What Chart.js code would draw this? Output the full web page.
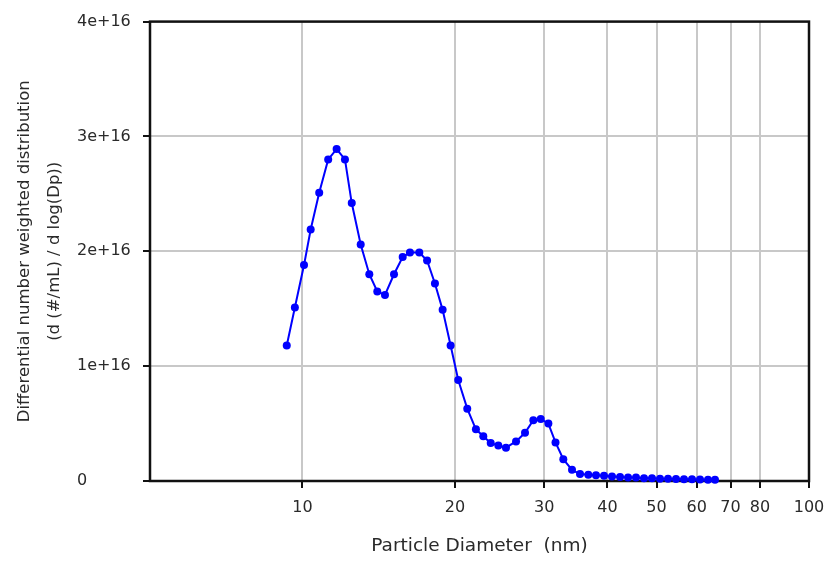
<!DOCTYPE html>
<html>
<head>
<meta charset="utf-8">
<script src="https://cdn.jsdelivr.net/npm/chart.js@4.4.1/dist/chart.umd.min.js"></script>
<style>
  html, body { margin: 0; padding: 0; background: #ffffff; }
  #wrap { width: 826px; height: 561px; position: relative; }
</style>
</head>
<body>
<div id="wrap"><canvas id="c" width="826" height="561"></canvas></div>
<script>
// Particle diameters (nm)
const diameters = [
  9.31, 9.66, 10.07, 10.38, 10.79, 11.24, 11.68, 12.13, 12.51, 13.03,
  13.55, 14.05, 14.55, 15.16, 15.77, 16.30, 17.01, 17.62, 18.26, 18.91,
  19.61, 20.30, 21.15, 22.00, 22.75, 23.53, 24.36, 25.22, 26.40, 27.50,
  28.56, 29.54, 30.58, 31.59, 32.73, 34.05, 35.31, 36.67, 37.97, 39.38,
  40.84, 42.36, 43.93, 45.55, 47.24, 48.98, 50.80, 52.68, 54.63, 56.65,
  58.75, 60.93, 63.18, 65.22
];
// Differential number weighted distribution, d(#/mL)/dlog(Dp)
const distribution = [
  1.18e16, 1.51e16, 1.88e16, 2.19e16, 2.51e16, 2.80e16, 2.89e16, 2.80e16, 2.42e16, 2.06e16,
  1.80e16, 1.65e16, 1.62e16, 1.80e16, 1.95e16, 1.99e16, 1.99e16, 1.92e16, 1.72e16, 1.49e16,
  1.18e16, 0.88e16, 0.63e16, 0.45e16, 0.39e16, 0.33e16, 0.31e16, 0.29e16, 0.345e16, 0.42e16,
  0.53e16, 0.54e16, 0.50e16, 0.336e16, 0.19e16, 0.097e16, 0.06e16, 0.055e16, 0.05e16, 0.045e16,
  0.04e16, 0.035e16, 0.03e16, 0.03e16, 0.025e16, 0.025e16, 0.02e16, 0.02e16, 0.018e16, 0.015e16,
  0.015e16, 0.012e16, 0.01e16, 0.01e16
];
const xTickValues = [10, 20, 30, 40, 50, 60, 70, 80, 100];
const yTickValues = [0, 1e16, 2e16, 3e16, 4e16];
const yTickLabels = ['0', '1e+16', '2e+16', '3e+16', '4e+16'];
const xTitle = 'Particle Diameter  (nm)';
const yTitle = ['Differential number weighted distribution', '(d (#/mL) / d log(Dp))'];

const points = diameters.map((d, i) => ({ x: d, y: distribution[i] }));

const frame = {
  id: 'frame',
  beforeDatasetsDraw(chart) {
    const a = chart.chartArea, ctx = chart.ctx;
    ctx.save();
    ctx.strokeStyle = '#111';
    ctx.lineWidth = 2.5;
    ctx.strokeRect(a.left, a.top, a.right - a.left, a.bottom - a.top);
    ctx.restore();
  }
};

new Chart(document.getElementById('c'), {
  type: 'line',
  data: {
    datasets: [{
      data: points,
      borderColor: '#0000ff',
      backgroundColor: '#0000ff',
      borderWidth: 2,
      pointRadius: 4,
      pointBorderWidth: 0,
      pointHoverRadius: 4,
      tension: 0,
      clip: false
    }]
  },
  plugins: [frame],
  options: {
    responsive: false,
    animation: false,
    events: [],
    layout: { padding: { top: 19, right: 17, left: 77, bottom: 0 } },
    plugins: { legend: { display: false }, tooltip: { enabled: false } },
    scales: {
      x: {
        type: 'logarithmic',
        min: 5,
        max: 100,
        afterBuildTicks: (s) => { s.ticks = xTickValues.map(v => ({ value: v })); },
        afterFit: (s) => { s.height = 80; s.paddingLeft = 0; s.paddingRight = 0; },
        border: { display: false },
        grid: {
          color: (c) => (c.tick && c.tick.value === 100) ? 'rgba(0,0,0,0)' : '#c8c8c8',
          lineWidth: 2,
          tickColor: '#111',
          tickLength: 7,
          tickWidth: 2
        },
        ticks: {
          autoSkip: false,
          maxRotation: 0,
          padding: 10,
          color: '#2a2a2a',
          font: { family: 'DejaVu Sans', size: 16 },
          callback: (v) => String(v)
        },
        title: {
          display: true,
          text: xTitle,
          color: '#2a2a2a',
          font: { family: 'DejaVu Sans', size: 18.5 },
          padding: { top: 0, bottom: 4 }
        }
      },
      y: {
        type: 'linear',
        min: 0,
        max: 4e16,
        afterBuildTicks: (s) => { s.ticks = yTickValues.map(v => ({ value: v })); },
        afterFit: (s) => { s.width = 73; },
        border: { display: false },
        grid: {
          color: (c) => (c.tick && (c.tick.value === 0 || c.tick.value === 4e16)) ? 'rgba(0,0,0,0)' : '#c8c8c8',
          lineWidth: 2,
          tickColor: '#111',
          tickLength: 7,
          tickWidth: 2
        },
        ticks: {
          crossAlign: 'far',
          padding: 12,
          color: '#2a2a2a',
          font: { family: 'DejaVu Sans', size: 16 },
          callback: (v) => yTickLabels[yTickValues.indexOf(v)]
        },
        title: {
          display: true,
          text: yTitle,
          color: '#2a2a2a',
          font: { family: 'DejaVu Sans', size: 16.5, lineHeight: 1.82 },
          padding: { top: -67, bottom: 0 }
        }
      }
    }
  }
});
</script>
</body>
</html>
